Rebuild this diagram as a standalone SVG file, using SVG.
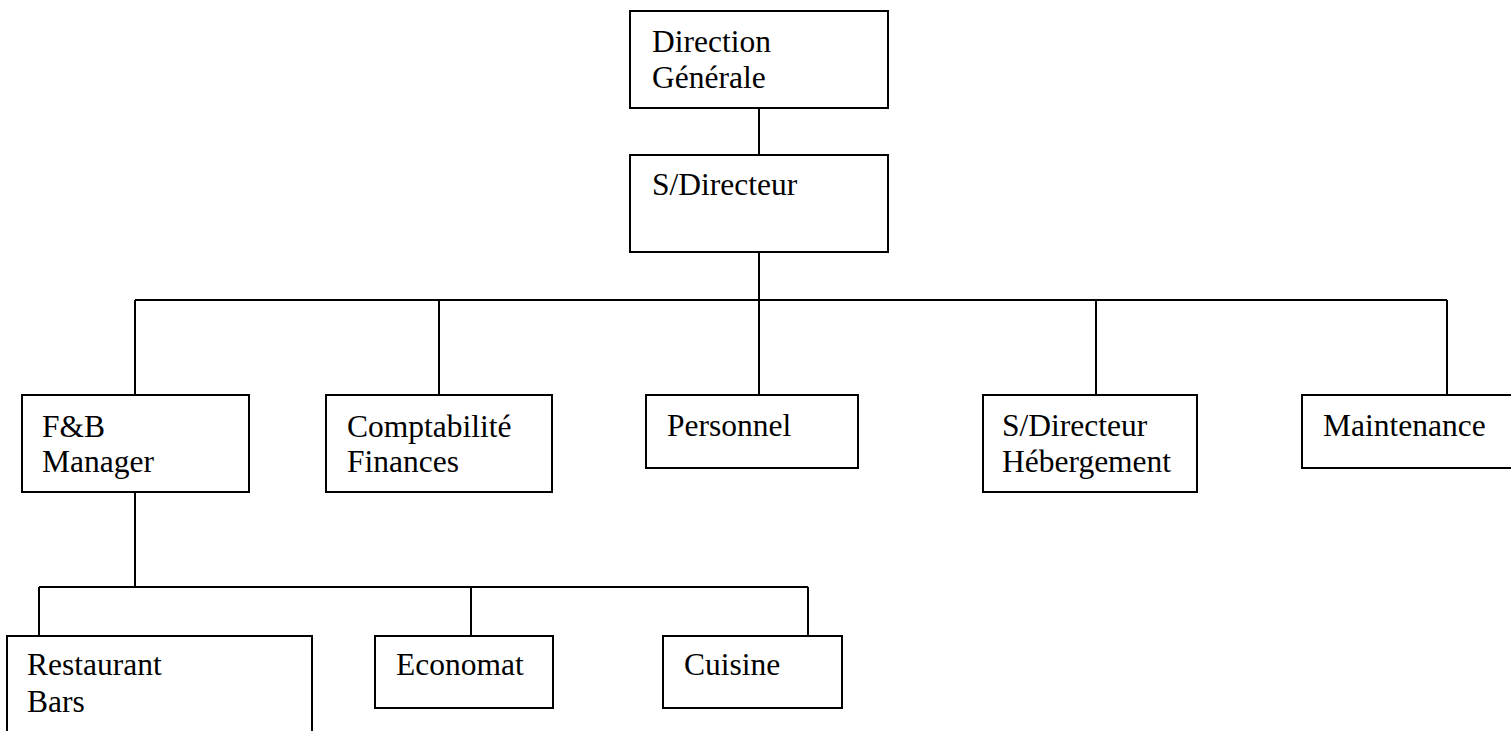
<svg xmlns="http://www.w3.org/2000/svg" width="1511" height="731" viewBox="0 0 1511 731">
<style>
rect{fill:#fff;stroke:#000;stroke-width:2}
line{stroke:#000;stroke-width:2}
text{font-family:"Liberation Serif","Times New Roman",serif;font-size:31.5px;fill:#000}
</style>
<rect x="0" y="0" width="1511" height="731" style="stroke:none"/>
<g id="connectors">
<line x1="759" y1="108" x2="759" y2="155"/>
<line x1="759" y1="252" x2="759" y2="395"/>
<line x1="135" y1="300" x2="1447" y2="300"/>
<line x1="135" y1="300" x2="135" y2="395"/>
<line x1="439" y1="300" x2="439" y2="395"/>
<line x1="1096" y1="300" x2="1096" y2="395"/>
<line x1="1447" y1="300" x2="1447" y2="395"/>
<line x1="135" y1="492" x2="135" y2="587"/>
<line x1="39" y1="587" x2="808" y2="587"/>
<line x1="39" y1="587" x2="39" y2="636"/>
<line x1="471" y1="587" x2="471" y2="636"/>
<line x1="808" y1="587" x2="808" y2="636"/>
</g>
<g id="direction"><rect x="630" y="11" width="258" height="97"/><text x="652" y="52">Direction</text><text x="652" y="88">Générale</text></g>
<g id="sdirecteur"><rect x="630" y="155" width="258" height="97"/><text x="652" y="195">S/Directeur</text></g>
<g id="fb"><rect x="22" y="395" width="227" height="97"/><text x="42" y="437">F&amp;B</text><text x="42" y="472">Manager</text></g>
<g id="compta"><rect x="326" y="395" width="226" height="97"/><text x="347" y="437">Comptabilité</text><text x="347" y="472">Finances</text></g>
<g id="personnel"><rect x="646" y="395" width="212" height="73"/><text x="667" y="436">Personnel</text></g>
<g id="hebergement"><rect x="983" y="395" width="214" height="97"/><text x="1002" y="436">S/Directeur</text><text x="1002" y="472">Hébergement</text></g>
<g id="maintenance"><rect x="1302" y="395" width="215" height="73"/><text x="1323" y="436">Maintenance</text></g>
<g id="restaurant"><rect x="7" y="636" width="305" height="110"/><text x="27" y="675">Restaurant</text><text x="27" y="712">Bars</text></g>
<g id="economat"><rect x="375" y="636" width="178" height="72"/><text x="396" y="675">Economat</text></g>
<g id="cuisine"><rect x="663" y="636" width="179" height="72"/><text x="684" y="675">Cuisine</text></g>
</svg>
